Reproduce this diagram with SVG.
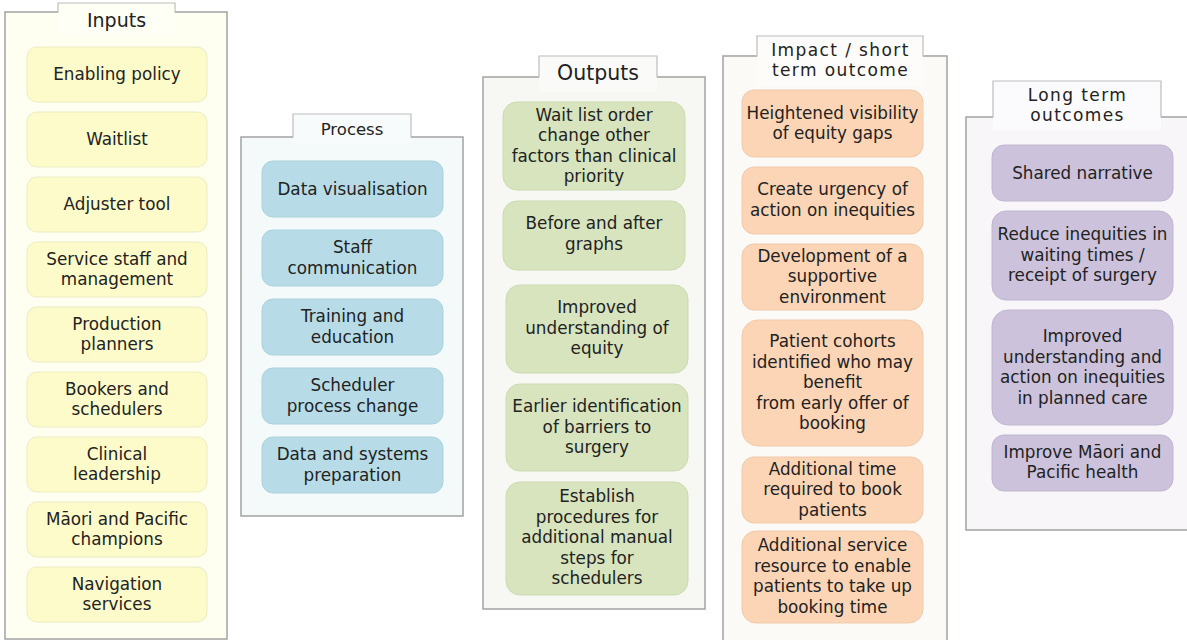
<svg xmlns="http://www.w3.org/2000/svg" width="1187" height="640" viewBox="0 0 1187 640">
<style>
  text { font-family: "DejaVu Sans", "Noto Sans", sans-serif; fill: #222; text-anchor: middle; }
  .t { font-size: 16.8px; }
  .h { font-size: 19px; }
  .h2 { font-size: 17px; letter-spacing: 1.4px; }
  .hs { font-size: 16.5px; }
  .ho { font-size: 20.5px; }
  .pborder { stroke: #a3a3a3; stroke-width: 1.5; }
  .tabline { fill: none; stroke: #bdbdbd; stroke-width: 1.2; }
  .in { fill: #fcfbc9; stroke: #ecebc2; stroke-width: 1; }
  .pr { fill: #b7dce7; stroke: #a9d2dd; stroke-width: 1; }
  .ou { fill: #d8e4be; stroke: #cbdab0; stroke-width: 1; }
  .im { fill: #fbd5b5; stroke: #efcaac; stroke-width: 1; }
  .lo { fill: #ccc2db; stroke: #c0b6d0; stroke-width: 1; }
</style>
<rect width="1187" height="640" fill="#ffffff"/>

<!-- Inputs panel -->
<g id="panel-inputs">
  <rect x="5" y="12" width="222" height="627" fill="#fefff0" class="pborder"/>
  <rect x="58" y="3" width="117" height="32" fill="#fefff5"/>
  <path d="M58 12.5 V3 H175 V12.5" class="tabline"/>
  <text class="h" x="116.5" y="27">Inputs</text>
</g>
<g id="in1"><rect class="in" x="27" y="47" width="180" height="55" rx="10"/><text class="t" x="117" y="80">Enabling policy</text></g>
<g id="in2"><rect class="in" x="27" y="112" width="180" height="55" rx="10"/><text class="t" x="117" y="145">Waitlist</text></g>
<g id="in3"><rect class="in" x="27" y="177" width="180" height="55" rx="10"/><text class="t" x="117" y="210">Adjuster tool</text></g>
<g id="in4"><rect class="in" x="27" y="242" width="180" height="55" rx="10"/><text class="t"><tspan x="117" y="264.75">Service staff and</tspan><tspan x="117" y="285.25">management</tspan></text></g>
<g id="in5"><rect class="in" x="27" y="307" width="180" height="55" rx="10"/><text class="t"><tspan x="117" y="329.75">Production</tspan><tspan x="117" y="350.25">planners</tspan></text></g>
<g id="in6"><rect class="in" x="27" y="372" width="180" height="55" rx="10"/><text class="t"><tspan x="117" y="394.75">Bookers and</tspan><tspan x="117" y="415.25">schedulers</tspan></text></g>
<g id="in7"><rect class="in" x="27" y="437" width="180" height="55" rx="10"/><text class="t"><tspan x="117" y="459.75">Clinical</tspan><tspan x="117" y="480.25">leadership</tspan></text></g>
<g id="in8"><rect class="in" x="27" y="502" width="180" height="55" rx="10"/><text class="t"><tspan x="117" y="524.75">Māori and Pacific</tspan><tspan x="117" y="545.25">champions</tspan></text></g>
<g id="in9"><rect class="in" x="27" y="567" width="180" height="55" rx="10"/><text class="t"><tspan x="117" y="589.75">Navigation</tspan><tspan x="117" y="610.25">services</tspan></text></g>

<!-- Process panel -->
<g id="panel-process">
  <rect x="241" y="137" width="222" height="379" fill="#f4f9fa" class="pborder"/>
  <rect x="293" y="114" width="118" height="29" fill="#f7fbfc"/>
  <path d="M293 137.5 V114 H411 V137.5" class="tabline"/>
  <text class="hs" x="352" y="134.5">Process</text>
</g>
<g id="pr1"><rect class="pr" x="262" y="161" width="181" height="56" rx="11"/><text class="t" x="352.5" y="194.5">Data visualisation</text></g>
<g id="pr2"><rect class="pr" x="262" y="230" width="181" height="56" rx="11"/><text class="t"><tspan x="352.5" y="253.25">Staff</tspan><tspan x="352.5" y="273.75">communication</tspan></text></g>
<g id="pr3"><rect class="pr" x="262" y="299" width="181" height="56" rx="11"/><text class="t"><tspan x="352.5" y="322.25">Training and</tspan><tspan x="352.5" y="342.75">education</tspan></text></g>
<g id="pr4"><rect class="pr" x="262" y="368" width="181" height="56" rx="11"/><text class="t"><tspan x="352.5" y="391.25">Scheduler</tspan><tspan x="352.5" y="411.75">process change</tspan></text></g>
<g id="pr5"><rect class="pr" x="262" y="437" width="181" height="56" rx="11"/><text class="t"><tspan x="352.5" y="460.25">Data and systems</tspan><tspan x="352.5" y="480.75">preparation</tspan></text></g>

<!-- Outputs panel -->
<g id="panel-outputs">
  <rect x="483" y="77" width="222" height="532" fill="#f7f8f4" class="pborder"/>
  <rect x="539" y="56" width="118" height="36" fill="#fafbf8"/>
  <path d="M539 77.5 V56 H657 V77.5" class="tabline"/>
  <text class="ho" x="598" y="80">Outputs</text>
</g>
<g id="ou1"><rect class="ou" x="503" y="102" width="182" height="88" rx="14"/><text class="t"><tspan x="594" y="120.75">Wait list order</tspan><tspan x="594" y="141.25">change other</tspan><tspan x="594" y="161.75">factors than clinical</tspan><tspan x="594" y="182.25">priority</tspan></text></g>
<g id="ou2"><rect class="ou" x="503" y="201" width="182" height="69" rx="14"/><text class="t"><tspan x="594" y="229.25">Before and after</tspan><tspan x="594" y="249.75">graphs</tspan></text></g>
<g id="ou3"><rect class="ou" x="506" y="285" width="182" height="88" rx="14"/><text class="t"><tspan x="597" y="313">Improved</tspan><tspan x="597" y="333.5">understanding of</tspan><tspan x="597" y="354">equity</tspan></text></g>
<g id="ou4"><rect class="ou" x="506" y="384" width="182" height="87" rx="14"/><text class="t"><tspan x="597" y="412">Earlier identification</tspan><tspan x="597" y="432.5">of barriers to</tspan><tspan x="597" y="453">surgery</tspan></text></g>
<g id="ou5"><rect class="ou" x="506" y="482" width="182" height="113" rx="14"/><text class="t"><tspan x="597" y="502">Establish</tspan><tspan x="597" y="522.5">procedures for</tspan><tspan x="597" y="543">additional manual</tspan><tspan x="597" y="563.5">steps for</tspan><tspan x="597" y="584">schedulers</tspan></text></g>

<!-- Impact panel -->
<g id="panel-impact">
  <rect x="723" y="56" width="224" height="590" fill="#fcfaf7" class="pborder"/>
  <rect x="757" y="36" width="166" height="50" fill="#fdfcfa"/>
  <path d="M757 56.5 V36 H923 V56.5" class="tabline"/>
  <text class="h2"><tspan x="840.5" y="55.5">Impact / short</tspan><tspan x="840.5" y="75.5">term outcome</tspan></text>
</g>
<g id="im1"><rect class="im" x="742" y="90" width="181" height="67" rx="12"/><text class="t"><tspan x="832.5" y="118.75">Heightened visibility</tspan><tspan x="832.5" y="139.25">of equity gaps</tspan></text></g>
<g id="im2"><rect class="im" x="742" y="167" width="181" height="67" rx="12"/><text class="t"><tspan x="832.5" y="195">Create urgency of</tspan><tspan x="832.5" y="215.5">action on inequities</tspan></text></g>
<g id="im3"><rect class="im" x="742" y="244" width="181" height="66" rx="12"/><text class="t"><tspan x="832.5" y="261.5">Development of a</tspan><tspan x="832.5" y="282">supportive</tspan><tspan x="832.5" y="302.5">environment</tspan></text></g>
<g id="im4"><rect class="im" x="742" y="320" width="181" height="126" rx="16"/><text class="t"><tspan x="832.5" y="347">Patient cohorts</tspan><tspan x="832.5" y="367.5">identified who may</tspan><tspan x="832.5" y="388">benefit</tspan><tspan x="832.5" y="408.5">from early offer of</tspan><tspan x="832.5" y="429">booking</tspan></text></g>
<g id="im5"><rect class="im" x="742" y="457" width="181" height="66" rx="12"/><text class="t"><tspan x="832.5" y="474.5">Additional time</tspan><tspan x="832.5" y="495">required to book</tspan><tspan x="832.5" y="515.5">patients</tspan></text></g>
<g id="im6"><rect class="im" x="742" y="531" width="181" height="92" rx="14"/><text class="t"><tspan x="832.5" y="551">Additional service</tspan><tspan x="832.5" y="571.5">resource to enable</tspan><tspan x="832.5" y="592">patients to take up</tspan><tspan x="832.5" y="612.5">booking time</tspan></text></g>

<!-- Long term panel -->
<g id="panel-long">
  <rect x="966" y="117" width="230" height="413" fill="#f8f6f9" class="pborder"/>
  <rect x="993" y="81" width="168" height="50" fill="#fbfafc"/>
  <path d="M993 117.5 V81 H1161 V117.5" class="tabline"/>
  <text class="h2"><tspan x="1077.5" y="100.5">Long term</tspan><tspan x="1077.5" y="120.5">outcomes</tspan></text>
</g>
<g id="lo1"><rect class="lo" x="992" y="145" width="181" height="56" rx="12"/><text class="t" x="1082.5" y="178.5">Shared narrative</text></g>
<g id="lo2"><rect class="lo" x="992" y="211" width="181" height="89" rx="14"/><text class="t"><tspan x="1082.5" y="240">Reduce inequities in</tspan><tspan x="1082.5" y="260.5">waiting times /</tspan><tspan x="1082.5" y="281">receipt of surgery</tspan></text></g>
<g id="lo3"><rect class="lo" x="992" y="310" width="181" height="115" rx="16"/><text class="t"><tspan x="1082.5" y="342">Improved</tspan><tspan x="1082.5" y="362.5">understanding and</tspan><tspan x="1082.5" y="383">action on inequities</tspan><tspan x="1082.5" y="403.5">in planned care</tspan></text></g>
<g id="lo4"><rect class="lo" x="992" y="435" width="181" height="56" rx="12"/><text class="t"><tspan x="1082.5" y="457.5">Improve Māori and</tspan><tspan x="1082.5" y="478">Pacific health</tspan></text></g>

<g id="connectors"></g>
</svg>
